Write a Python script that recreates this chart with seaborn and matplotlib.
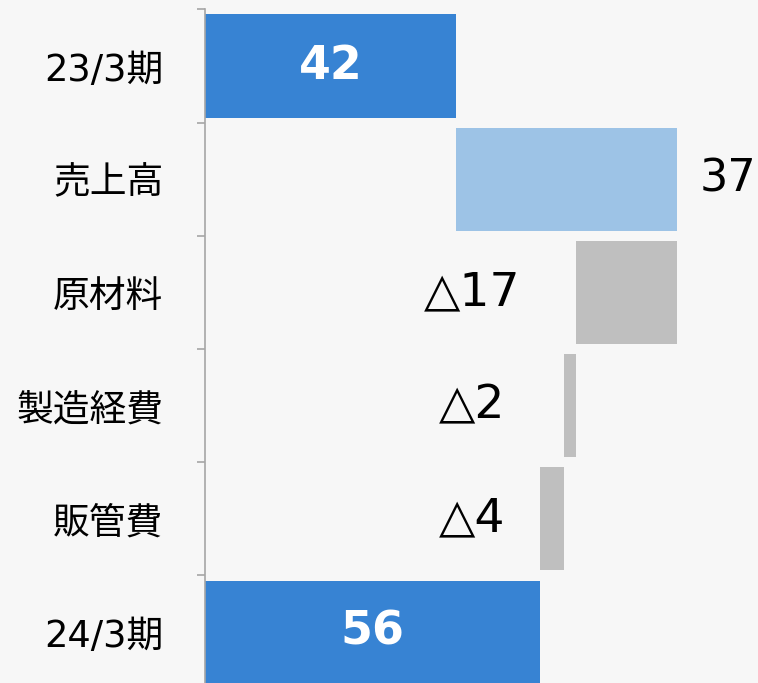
import numpy as np
import pandas as pd
import matplotlib
matplotlib.use("Agg")
import matplotlib.pyplot as plt
import seaborn as sns

# data
categories = ["23/3期", "売上高", "原材料", "製造経費", "販管費", "24/3期"]
values = [42, 37, -17, -2, -4, 56]
kinds = ["total", "up", "down", "down", "down", "total"]
labels = ["42", "37", "△17", "△2", "△4", "56"]

colors = {"total": "#3783D3", "up": "#9DC3E6", "down": "#BFBFBF"}
bg = "#F7F7F7"

# waterfall starts
lefts = []
running = 0
for v, k in zip(values, kinds):
    if k == "total":
        lefts.append(0)
        running = v
    elif v >= 0:
        lefts.append(running)
        running += v
    else:
        running += v
        lefts.append(running)
widths = [abs(v) for v in values]

df = pd.DataFrame({"cat": categories, "width": widths, "kind": kinds})

sns.set_style("white")
plt.rcParams["font.family"] = ["DejaVu Sans", "Noto Sans CJK JP"]

fig = plt.figure(figsize=(7.58, 6.83), dpi=100, facecolor=bg)
ax = fig.add_axes([205 / 758, 0, 1 - 205 / 758, (683 - 9.4) / 683])
ax.set_facecolor(bg)

sns.barplot(data=df, x="width", y="cat", hue="kind", palette=colors,
            orient="h", width=0.91, dodge=False, legend=False, ax=ax,
            saturation=1)

# shift bars to waterfall positions
for patch in ax.patches:
    yc = patch.get_y() + patch.get_height() / 2
    i = int(round(yc))
    patch.set_x(lefts[i])
    patch.set_width(widths[i])
    patch.set_edgecolor("none")

for i, (v, k, lab) in enumerate(zip(values, kinds, labels)):
    if k == "total":
        ax.text(v / 2, i, lab, ha="center", va="center", color="white",
                fontsize=33, fontweight="bold")
    elif k == "up":
        ax.text(lefts[i] + widths[i] + 3.8, i, lab, ha="left", va="center",
                color="black", fontsize=32, clip_on=False)
    else:
        ax.text(44.6, i, lab, ha="center", va="center", color="black",
                fontsize=34)

ax.set_xlim(0, 92.5)
ax.set_ylim(5.45, -0.5)
ax.set_xlabel("")
ax.set_ylabel("")
ax.set_xticks([])

for s in ["top", "right", "bottom"]:
    ax.spines[s].set_visible(False)
ax.spines["left"].set_color("#A6A6A6")
ax.spines["left"].set_linewidth(1.2)

ax.set_yticks(range(len(categories)))
ax.set_yticklabels(categories, fontsize=26.5)
ax.tick_params(axis="y", which="major", left=True, length=0, pad=30,
               labelcolor="black")
ax.set_yticks(np.arange(-0.5, len(categories) - 0.5, 1), minor=True)
ax.tick_params(axis="y", which="minor", left=True, length=6, width=1.2,
               color="#A6A6A6", direction="out")

fig.savefig("out.png", dpi=100, facecolor=bg)
